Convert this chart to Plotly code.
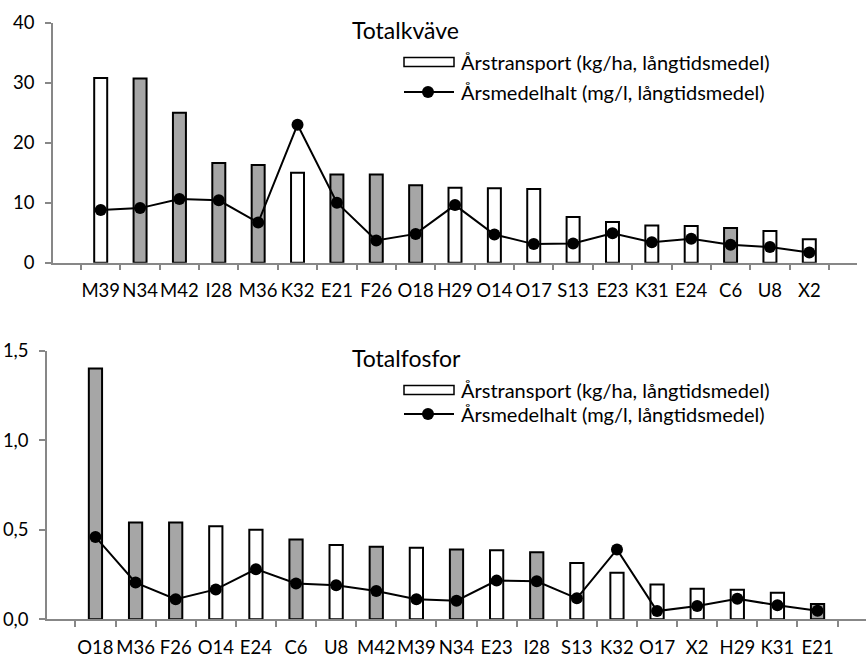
import plotly.graph_objects as go

# --- Data -------------------------------------------------------------------
# Sites belonging to the shaded group (grey bars in both panels)
shaded_sites = ["N34", "M42", "I28", "M36", "E21", "F26", "O18", "C6"]

# Totalkväve (nitrogen)
n_sites = ["M39", "N34", "M42", "I28", "M36", "K32", "E21", "F26", "O18", "H29",
           "O14", "O17", "S13", "E23", "K31", "E24", "C6", "U8", "X2"]
n_transport = [30.8, 30.7, 25.0, 16.6, 16.3, 15.0, 14.7, 14.7, 12.9, 12.5,
               12.4, 12.3, 7.6, 6.8, 6.2, 6.1, 5.8, 5.3, 3.9]
n_conc = [8.8, 9.1, 10.6, 10.4, 6.7, 23.0, 10.0, 3.7, 4.8, 9.6,
          4.7, 3.1, 3.2, 4.9, 3.4, 4.0, 3.0, 2.6, 1.7]
n_ticks = [0, 10, 20, 30, 40]

# Totalfosfor (phosphorus)
p_sites = ["O18", "M36", "F26", "O14", "E24", "C6", "U8", "M42", "M39", "N34",
           "E23", "I28", "S13", "K32", "O17", "X2", "H29", "K31", "E21"]
p_transport = [1.40, 0.54, 0.54, 0.52, 0.50, 0.445, 0.415, 0.405, 0.40, 0.39,
               0.385, 0.375, 0.315, 0.26, 0.195, 0.17, 0.165, 0.148, 0.085]
p_conc = [0.46, 0.205, 0.112, 0.167, 0.28, 0.20, 0.19, 0.158, 0.112, 0.104,
          0.216, 0.212, 0.117, 0.39, 0.046, 0.074, 0.115, 0.078, 0.048]
p_ticks = [0.0, 0.5, 1.0, 1.5]

titles = ["Totalkväve", "Totalfosfor"]
legend_labels = ["Årstransport (kg/ha, långtidsmedel)",
                 "Årsmedelhalt (mg/l, långtidsmedel)"]

# --- Style ------------------------------------------------------------------
W, H = 868, 657
FONT = "Lato, Carlito, Calibri, sans-serif"
GREY = "#a6a6a6"
AXIS = "#878787"


def bar_colors(sites):
    return [GREY if s in shaded_sites else "white" for s in sites]


fig = go.Figure()

panels = [
    ("x", "y", n_sites, n_transport, n_conc),
    ("x2", "y2", p_sites, p_transport, p_conc),
]
for xa, ya, sites, transport, conc in panels:
    fig.add_trace(go.Bar(
        x=sites, y=transport, xaxis=xa, yaxis=ya,
        marker=dict(color=bar_colors(sites), line=dict(color="black", width=2)),
        showlegend=False, hoverinfo="x+y",
    ))
    fig.add_trace(go.Scatter(
        x=sites, y=conc, xaxis=xa, yaxis=ya, mode="lines+markers",
        line=dict(color="black", width=2),
        marker=dict(color="black", size=12),
        showlegend=False, hoverinfo="x+y",
    ))


def px_x(v):
    return v / W


def px_y(v):
    return 1 - v / H


common_x = dict(
    type="category", tickson="boundaries", ticks="outside", ticklen=6,
    tickcolor=AXIS, tickwidth=1.5, showline=True, linecolor=AXIS, linewidth=1.5,
    showgrid=False, zeroline=False, automargin=False, tickangle=0,
    tickfont=dict(family=FONT, size=18.5, color="black"), ticklabelstandoff=10,
)
common_y = dict(
    ticks="outside", ticklen=6, tickcolor=AXIS, tickwidth=1.5, showline=True,
    linecolor=AXIS, linewidth=1.5, showgrid=False, zeroline=False,
    automargin=False, tickfont=dict(family=FONT, size=18.5, color="black"),
    ticklabelstandoff=7,
)

fig.update_layout(
    width=W, height=H,
    margin=dict(l=0, r=0, t=0, b=0),
    paper_bgcolor="white", plot_bgcolor="white",
    separators=", ",
    bargap=0.67,
    font=dict(family=FONT, color="black"),
    xaxis=dict(common_x, domain=[px_x(53), px_x(857)], anchor="y"),
    yaxis=dict(common_y, domain=[px_y(262.7), px_y(22.7)], range=[0, 40],
               tickvals=n_ticks, anchor="x"),
    xaxis2=dict(common_x, domain=[px_x(47), px_x(866)], anchor="y2",
                ticklabelstandoff=11),
    yaxis2=dict(common_y, domain=[px_y(619.3), px_y(350.7)], range=[0, 1.5],
                tickvals=p_ticks, tickformat=".1f", anchor="x2"),
)

# Panel titles and legends (drawn in page coordinates)
panel_layout = [
    # title y, bar-legend y, line-legend y
    (30, 62, 92),
    (358, 390, 414),
]
shapes = []
annotations = []
for title, (ty, by, ly) in zip(titles, panel_layout):
    annotations.append(dict(
        text=title, xref="paper", yref="paper", x=px_x(350), y=px_y(ty),
        xanchor="left", yanchor="middle", showarrow=False,
        font=dict(family=FONT, size=23, color="black"),
    ))
    shapes.append(dict(
        type="rect", xref="paper", yref="paper",
        x0=px_x(404), x1=px_x(454), y0=px_y(by - 4.5), y1=px_y(by + 4.5),
        line=dict(color="black", width=1.5), fillcolor="white",
    ))
    shapes.append(dict(
        type="line", xref="paper", yref="paper",
        x0=px_x(404), x1=px_x(454), y0=px_y(ly), y1=px_y(ly),
        line=dict(color="black", width=2),
    ))
    shapes.append(dict(
        type="circle", xref="paper", yref="paper",
        x0=px_x(428 - 6), x1=px_x(428 + 6), y0=px_y(ly - 6), y1=px_y(ly + 6),
        line=dict(color="black", width=0), fillcolor="black",
    ))
    for label, yy in zip(legend_labels, (by, ly)):
        annotations.append(dict(
            text=label, xref="paper", yref="paper", x=px_x(459), y=px_y(yy),
            xanchor="left", yanchor="middle", showarrow=False,
            font=dict(family=FONT, size=20, color="black"),
        ))

fig.update_layout(shapes=shapes, annotations=annotations)

fig.write_html("out.html")
